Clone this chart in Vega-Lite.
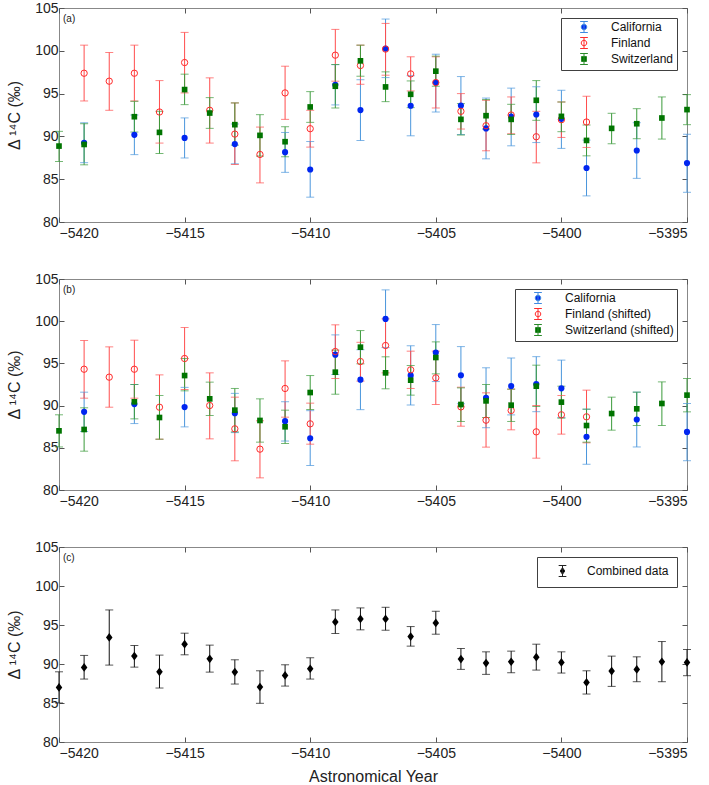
{
  "$schema": "https://vega.github.io/schema/vega-lite/v6.json",
  "background": "white",
  "padding": {"left": 5, "top": 0, "right": 5, "bottom": 0},
  "bounds": "flush",
  "spacing": 57,
  "resolve": {"scale": {"color": "independent", "fill": "independent", "stroke": "independent", "shape": "independent"}, "legend": {"stroke": "independent", "fill": "independent", "color": "independent", "shape": "independent"}},
  "config": {
    "font": "Liberation Sans",
    "view": {"stroke": "#888888", "strokeWidth": 1},
    "axis": {"grid": false, "domain": false, "tickColor": "#555555", "tickSize": -5, "labelFontSize": 14, "labelColor": "#222222", "labelPadding": 6, "titleFontSize": 16, "titleFontWeight": "normal", "titleColor": "#222222", "titlePadding": 12.5},
    "axisX": {"labelPadding": 9, "titlePadding": 8},
    "legend": {"labelFontSize": 12, "labelColor": "#111111", "labelFont": "Liberation Sans", "title": null, "orient": "top-right", "offset": 10, "strokeColor": "#404040", "fillColor": "white", "symbolSize": 121, "symbolStrokeWidth": 1, "symbolOpacity": 1}
  },
  "datasets": {
    "a": [
      {"year": -5419, "series": "California", "value": 89.26, "lo": 86.93, "hi": 91.59},
      {"year": -5417, "series": "California", "value": 90.18, "lo": 87.87, "hi": 92.5},
      {"year": -5415, "series": "California", "value": 89.82, "lo": 87.48, "hi": 92.16},
      {"year": -5413, "series": "California", "value": 89.1, "lo": 86.8, "hi": 91.45},
      {"year": -5411, "series": "California", "value": 88.16, "lo": 85.8, "hi": 90.46},
      {"year": -5410, "series": "California", "value": 86.13, "lo": 82.9, "hi": 89.4},
      {"year": -5409, "series": "California", "value": 96.03, "lo": 93.68, "hi": 98.38},
      {"year": -5408, "series": "California", "value": 93.07, "lo": 89.52, "hi": 96.62},
      {"year": -5407, "series": "California", "value": 100.27, "lo": 96.87, "hi": 103.71},
      {"year": -5406, "series": "California", "value": 93.58, "lo": 90.07, "hi": 97.09},
      {"year": -5405, "series": "California", "value": 96.29, "lo": 92.85, "hi": 99.6},
      {"year": -5404, "series": "California", "value": 93.6, "lo": 90.22, "hi": 96.99},
      {"year": -5403, "series": "California", "value": 90.93, "lo": 87.38, "hi": 94.48},
      {"year": -5402, "series": "California", "value": 92.32, "lo": 88.9, "hi": 95.64},
      {"year": -5401, "series": "California", "value": 92.56, "lo": 89.28, "hi": 95.8},
      {"year": -5400, "series": "California", "value": 92.05, "lo": 88.6, "hi": 95.39},
      {"year": -5399, "series": "California", "value": 86.31, "lo": 83.05, "hi": 89.57},
      {"year": -5397, "series": "California", "value": 88.35, "lo": 85.1, "hi": 91.6},
      {"year": -5395, "series": "California", "value": 86.88, "lo": 83.47, "hi": 90.25},
      {"year": -5419, "series": "Finland", "value": 97.38, "lo": 94.14, "hi": 100.66},
      {"year": -5418, "series": "Finland", "value": 96.45, "lo": 93.05, "hi": 99.8},
      {"year": -5417, "series": "Finland", "value": 97.38, "lo": 94.14, "hi": 100.66},
      {"year": -5416, "series": "Finland", "value": 92.85, "lo": 89.22, "hi": 96.52},
      {"year": -5415, "series": "Finland", "value": 98.63, "lo": 95.08, "hi": 102.15},
      {"year": -5414, "series": "Finland", "value": 93.05, "lo": 89.22, "hi": 96.84},
      {"year": -5413, "series": "Finland", "value": 90.27, "lo": 86.72, "hi": 93.91},
      {"year": -5412, "series": "Finland", "value": 87.89, "lo": 84.57, "hi": 91.09},
      {"year": -5411, "series": "Finland", "value": 95.08, "lo": 91.99, "hi": 98.2},
      {"year": -5410, "series": "Finland", "value": 90.9, "lo": 88.75, "hi": 93.05},
      {"year": -5409, "series": "Finland", "value": 99.49, "lo": 96.45, "hi": 102.5},
      {"year": -5408, "series": "Finland", "value": 98.28, "lo": 96.09, "hi": 100.66},
      {"year": -5407, "series": "Finland", "value": 100.2, "lo": 97.15, "hi": 103.2},
      {"year": -5406, "series": "Finland", "value": 97.3, "lo": 95.31, "hi": 99.3},
      {"year": -5405, "series": "Finland", "value": 96.29, "lo": 93.32, "hi": 99.3},
      {"year": -5404, "series": "Finland", "value": 92.93, "lo": 90.86, "hi": 95.0},
      {"year": -5403, "series": "Finland", "value": 91.25, "lo": 88.32, "hi": 94.22},
      {"year": -5402, "series": "Finland", "value": 92.5, "lo": 90.31, "hi": 94.61},
      {"year": -5401, "series": "Finland", "value": 89.96, "lo": 86.91, "hi": 92.93},
      {"year": -5400, "series": "Finland", "value": 91.95, "lo": 89.88, "hi": 94.02},
      {"year": -5399, "series": "Finland", "value": 91.68, "lo": 88.71, "hi": 94.69},
      {"year": -5420, "series": "Switzerland", "value": 88.87, "lo": 87.07, "hi": 90.59},
      {"year": -5419, "series": "Switzerland", "value": 89.06, "lo": 86.68, "hi": 91.48},
      {"year": -5417, "series": "Switzerland", "value": 92.3, "lo": 90.51, "hi": 94.1},
      {"year": -5416, "series": "Switzerland", "value": 90.47, "lo": 88.0, "hi": 92.93},
      {"year": -5415, "series": "Switzerland", "value": 95.47, "lo": 93.71, "hi": 97.27},
      {"year": -5414, "series": "Switzerland", "value": 92.73, "lo": 90.94, "hi": 94.53},
      {"year": -5413, "series": "Switzerland", "value": 91.37, "lo": 88.98, "hi": 93.91},
      {"year": -5412, "series": "Switzerland", "value": 90.12, "lo": 87.7, "hi": 92.54},
      {"year": -5411, "series": "Switzerland", "value": 89.38, "lo": 87.62, "hi": 91.13},
      {"year": -5410, "series": "Switzerland", "value": 93.44, "lo": 91.64, "hi": 95.23},
      {"year": -5409, "series": "Switzerland", "value": 95.86, "lo": 93.32, "hi": 98.4},
      {"year": -5408, "series": "Switzerland", "value": 98.83, "lo": 97.03, "hi": 100.66},
      {"year": -5407, "series": "Switzerland", "value": 95.78, "lo": 94.06, "hi": 97.54},
      {"year": -5406, "series": "Switzerland", "value": 94.92, "lo": 93.36, "hi": 96.48},
      {"year": -5405, "series": "Switzerland", "value": 97.62, "lo": 95.86, "hi": 99.38},
      {"year": -5404, "series": "Switzerland", "value": 91.99, "lo": 90.16, "hi": 93.83},
      {"year": -5403, "series": "Switzerland", "value": 92.42, "lo": 90.86, "hi": 94.3},
      {"year": -5402, "series": "Switzerland", "value": 91.99, "lo": 90.23, "hi": 93.75},
      {"year": -5401, "series": "Switzerland", "value": 94.22, "lo": 91.88, "hi": 96.52},
      {"year": -5400, "series": "Switzerland", "value": 92.34, "lo": 90.55, "hi": 94.02},
      {"year": -5399, "series": "Switzerland", "value": 89.53, "lo": 87.73, "hi": 91.33},
      {"year": -5398, "series": "Switzerland", "value": 90.94, "lo": 89.14, "hi": 92.7},
      {"year": -5397, "series": "Switzerland", "value": 91.48, "lo": 89.73, "hi": 93.24},
      {"year": -5396, "series": "Switzerland", "value": 92.15, "lo": 89.69, "hi": 94.61},
      {"year": -5395, "series": "Switzerland", "value": 93.13, "lo": 91.37, "hi": 94.88}
    ],
    "b": [
      {"year": -5419, "series": "California", "value": 89.26, "lo": 86.93, "hi": 91.59},
      {"year": -5417, "series": "California", "value": 90.18, "lo": 87.87, "hi": 92.5},
      {"year": -5415, "series": "California", "value": 89.82, "lo": 87.48, "hi": 92.16},
      {"year": -5413, "series": "California", "value": 89.1, "lo": 86.8, "hi": 91.45},
      {"year": -5411, "series": "California", "value": 88.16, "lo": 85.8, "hi": 90.46},
      {"year": -5410, "series": "California", "value": 86.13, "lo": 82.9, "hi": 89.4},
      {"year": -5409, "series": "California", "value": 96.03, "lo": 93.68, "hi": 98.38},
      {"year": -5408, "series": "California", "value": 93.07, "lo": 89.52, "hi": 96.62},
      {"year": -5407, "series": "California", "value": 100.27, "lo": 96.87, "hi": 103.71},
      {"year": -5406, "series": "California", "value": 93.58, "lo": 90.07, "hi": 97.09},
      {"year": -5405, "series": "California", "value": 96.29, "lo": 92.85, "hi": 99.6},
      {"year": -5404, "series": "California", "value": 93.6, "lo": 90.22, "hi": 96.99},
      {"year": -5403, "series": "California", "value": 90.93, "lo": 87.38, "hi": 94.48},
      {"year": -5402, "series": "California", "value": 92.32, "lo": 88.9, "hi": 95.64},
      {"year": -5401, "series": "California", "value": 92.56, "lo": 89.28, "hi": 95.8},
      {"year": -5400, "series": "California", "value": 92.05, "lo": 88.6, "hi": 95.39},
      {"year": -5399, "series": "California", "value": 86.31, "lo": 83.05, "hi": 89.57},
      {"year": -5397, "series": "California", "value": 88.35, "lo": 85.1, "hi": 91.6},
      {"year": -5395, "series": "California", "value": 86.88, "lo": 83.47, "hi": 90.25},
      {"year": -5419, "series": "Finland (shifted)", "value": 94.31, "lo": 90.88, "hi": 97.71},
      {"year": -5418, "series": "Finland (shifted)", "value": 93.37, "lo": 89.81, "hi": 96.96},
      {"year": -5417, "series": "Finland (shifted)", "value": 94.31, "lo": 90.88, "hi": 97.75},
      {"year": -5416, "series": "Finland (shifted)", "value": 89.81, "lo": 86.02, "hi": 93.64},
      {"year": -5415, "series": "Finland (shifted)", "value": 95.58, "lo": 91.91, "hi": 99.25},
      {"year": -5414, "series": "Finland (shifted)", "value": 90.01, "lo": 86.06, "hi": 93.88},
      {"year": -5413, "series": "Finland (shifted)", "value": 87.25, "lo": 83.46, "hi": 91.0},
      {"year": -5412, "series": "Finland (shifted)", "value": 84.84, "lo": 81.44, "hi": 88.2},
      {"year": -5411, "series": "Finland (shifted)", "value": 92.03, "lo": 88.63, "hi": 95.3},
      {"year": -5410, "series": "Finland (shifted)", "value": 87.84, "lo": 85.43, "hi": 90.29},
      {"year": -5409, "series": "Finland (shifted)", "value": 96.41, "lo": 93.21, "hi": 99.57},
      {"year": -5408, "series": "Finland (shifted)", "value": 95.22, "lo": 92.9, "hi": 97.5},
      {"year": -5407, "series": "Finland (shifted)", "value": 97.12, "lo": 93.88, "hi": 100.28},
      {"year": -5406, "series": "Finland (shifted)", "value": 94.24, "lo": 92.03, "hi": 96.45},
      {"year": -5405, "series": "Finland (shifted)", "value": 93.29, "lo": 90.13, "hi": 96.45},
      {"year": -5404, "series": "Finland (shifted)", "value": 89.85, "lo": 87.56, "hi": 92.18},
      {"year": -5403, "series": "Finland (shifted)", "value": 88.27, "lo": 85.08, "hi": 91.51},
      {"year": -5402, "series": "Finland (shifted)", "value": 89.42, "lo": 87.13, "hi": 91.95},
      {"year": -5401, "series": "Finland (shifted)", "value": 86.89, "lo": 83.77, "hi": 90.01},
      {"year": -5400, "series": "Finland (shifted)", "value": 88.91, "lo": 86.62, "hi": 91.2},
      {"year": -5399, "series": "Finland (shifted)", "value": 88.67, "lo": 85.59, "hi": 91.83},
      {"year": -5420, "series": "Switzerland (shifted)", "value": 87.01, "lo": 85.1, "hi": 88.91},
      {"year": -5419, "series": "Switzerland (shifted)", "value": 87.17, "lo": 84.6, "hi": 89.74},
      {"year": -5417, "series": "Switzerland (shifted)", "value": 90.45, "lo": 88.43, "hi": 92.5},
      {"year": -5416, "series": "Switzerland (shifted)", "value": 88.59, "lo": 86.02, "hi": 91.2},
      {"year": -5415, "series": "Switzerland (shifted)", "value": 93.56, "lo": 91.75, "hi": 95.58},
      {"year": -5414, "series": "Switzerland (shifted)", "value": 90.8, "lo": 88.83, "hi": 92.78},
      {"year": -5413, "series": "Switzerland (shifted)", "value": 89.46, "lo": 86.89, "hi": 92.03},
      {"year": -5412, "series": "Switzerland (shifted)", "value": 88.24, "lo": 85.67, "hi": 90.8},
      {"year": -5411, "series": "Switzerland (shifted)", "value": 87.49, "lo": 85.51, "hi": 89.46},
      {"year": -5410, "series": "Switzerland (shifted)", "value": 91.55, "lo": 89.54, "hi": 93.56},
      {"year": -5409, "series": "Switzerland (shifted)", "value": 93.96, "lo": 91.35, "hi": 96.57},
      {"year": -5408, "series": "Switzerland (shifted)", "value": 96.92, "lo": 94.95, "hi": 98.89},
      {"year": -5407, "series": "Switzerland (shifted)", "value": 93.88, "lo": 91.99, "hi": 95.78},
      {"year": -5406, "series": "Switzerland (shifted)", "value": 93.01, "lo": 91.24, "hi": 94.75},
      {"year": -5405, "series": "Switzerland (shifted)", "value": 95.7, "lo": 93.76, "hi": 97.55},
      {"year": -5404, "series": "Switzerland (shifted)", "value": 90.13, "lo": 88.12, "hi": 92.1},
      {"year": -5403, "series": "Switzerland (shifted)", "value": 90.56, "lo": 88.59, "hi": 92.5},
      {"year": -5402, "series": "Switzerland (shifted)", "value": 90.05, "lo": 88.12, "hi": 91.95},
      {"year": -5401, "series": "Switzerland (shifted)", "value": 92.3, "lo": 89.89, "hi": 94.79},
      {"year": -5400, "series": "Switzerland (shifted)", "value": 90.41, "lo": 88.51, "hi": 92.3},
      {"year": -5399, "series": "Switzerland (shifted)", "value": 87.64, "lo": 85.67, "hi": 89.58},
      {"year": -5398, "series": "Switzerland (shifted)", "value": 89.06, "lo": 87.09, "hi": 91.0},
      {"year": -5397, "series": "Switzerland (shifted)", "value": 89.62, "lo": 87.64, "hi": 91.59},
      {"year": -5396, "series": "Switzerland (shifted)", "value": 90.25, "lo": 87.64, "hi": 92.81},
      {"year": -5395, "series": "Switzerland (shifted)", "value": 91.24, "lo": 89.26, "hi": 93.21}
    ],
    "c": [
      {"year": -5420, "series": "Combined data", "value": 87.0, "lo": 85.0, "hi": 89.0},
      {"year": -5419, "series": "Combined data", "value": 89.56, "lo": 88.07, "hi": 91.1},
      {"year": -5418, "series": "Combined data", "value": 93.4, "lo": 89.86, "hi": 96.93},
      {"year": -5417, "series": "Combined data", "value": 91.01, "lo": 89.6, "hi": 92.37},
      {"year": -5416, "series": "Combined data", "value": 89.0, "lo": 86.92, "hi": 91.14},
      {"year": -5415, "series": "Combined data", "value": 92.54, "lo": 91.18, "hi": 93.95},
      {"year": -5414, "series": "Combined data", "value": 90.67, "lo": 88.96, "hi": 92.42},
      {"year": -5413, "series": "Combined data", "value": 88.96, "lo": 87.43, "hi": 90.54},
      {"year": -5412, "series": "Combined data", "value": 87.05, "lo": 84.96, "hi": 89.13},
      {"year": -5411, "series": "Combined data", "value": 88.54, "lo": 87.17, "hi": 89.9},
      {"year": -5410, "series": "Combined data", "value": 89.39, "lo": 88.07, "hi": 90.8},
      {"year": -5409, "series": "Combined data", "value": 95.4, "lo": 93.91, "hi": 96.93},
      {"year": -5408, "series": "Combined data", "value": 95.78, "lo": 94.38, "hi": 97.19},
      {"year": -5407, "series": "Combined data", "value": 95.78, "lo": 94.33, "hi": 97.27},
      {"year": -5406, "series": "Combined data", "value": 93.52, "lo": 92.29, "hi": 94.8},
      {"year": -5405, "series": "Combined data", "value": 95.27, "lo": 93.82, "hi": 96.76},
      {"year": -5404, "series": "Combined data", "value": 90.63, "lo": 89.31, "hi": 91.99},
      {"year": -5403, "series": "Combined data", "value": 90.12, "lo": 88.67, "hi": 91.56},
      {"year": -5402, "series": "Combined data", "value": 90.29, "lo": 88.88, "hi": 91.65},
      {"year": -5401, "series": "Combined data", "value": 90.88, "lo": 89.22, "hi": 92.54},
      {"year": -5400, "series": "Combined data", "value": 90.2, "lo": 88.84, "hi": 91.56},
      {"year": -5399, "series": "Combined data", "value": 87.64, "lo": 86.15, "hi": 89.13},
      {"year": -5398, "series": "Combined data", "value": 89.09, "lo": 87.13, "hi": 91.01},
      {"year": -5397, "series": "Combined data", "value": 89.31, "lo": 87.73, "hi": 90.92},
      {"year": -5396, "series": "Combined data", "value": 90.29, "lo": 87.73, "hi": 92.88},
      {"year": -5395, "series": "Combined data", "value": 90.2, "lo": 88.5, "hi": 91.86}
    ]
  },
  "vconcat": [
    {
      "width": 628, "height": 214,
      "data": {"name": "a"},
      "resolve": {"axis": {"x": "independent", "y": "independent"}},
      "layer": [
        {"mark": {"type": "rule", "strokeWidth": 1},
         "encoding": {
           "x": {"field": "year", "type": "quantitative", "scale": {"domain": [-5420, -5395], "nice": false, "zero": false}, "axis": {"values": [-5420, -5415, -5410, -5405, -5400, -5395], "format": "d", "title": null}},
           "y": {"field": "lo", "type": "quantitative", "scale": {"domain": [80, 105], "nice": false, "zero": false}, "axis": {"values": [80, 85, 90, 95, 100, 105], "title": "Δ ¹⁴C (‰)"}},
           "y2": {"field": "hi"},
           "color": {"field": "series", "type": "nominal", "scale": {"range": ["#4a96dc", "#ff4d4d", "#3a9a3a"]}, "legend": null}
         }},
        {"mark": {"type": "tick", "orient": "horizontal", "size": 8, "thickness": 1},
         "encoding": {
           "x": {"field": "year", "type": "quantitative", "axis": null},
           "y": {"field": "lo", "type": "quantitative", "axis": null},
           "color": {"field": "series", "type": "nominal", "legend": null}
         }},
        {"mark": {"type": "tick", "orient": "horizontal", "size": 8, "thickness": 1},
         "encoding": {
           "x": {"field": "year", "type": "quantitative", "axis": null},
           "y": {"field": "hi", "type": "quantitative", "axis": null},
           "color": {"field": "series", "type": "nominal", "legend": null}
         }},
        {"transform": [{"filter": "datum.series === 'California'"}],
         "mark": {"type": "point", "filled": true, "opacity": 1, "shape": "circle", "size": 38, "color": "#0026f0"},
         "encoding": {
           "x": {"field": "year", "type": "quantitative", "axis": {"orient": "top", "labels": false, "values": [-5420, -5415, -5410, -5405, -5400, -5395], "title": null}},
           "y": {"field": "value", "type": "quantitative", "axis": {"orient": "right", "labels": false, "values": [80, 85, 90, 95, 100, 105], "title": null}}
         }},
        {"transform": [{"filter": "datum.series === 'Finland'"}],
         "mark": {"type": "point", "filled": false, "opacity": 1, "shape": "circle", "size": 40, "strokeWidth": 1, "color": "#ff2a2a"},
         "encoding": {
           "x": {"field": "year", "type": "quantitative", "axis": null},
           "y": {"field": "value", "type": "quantitative", "axis": null}
         }},
        {"transform": [{"filter": "datum.series === 'Switzerland'"}],
         "mark": {"type": "point", "filled": true, "opacity": 1, "shape": "square", "size": 32, "color": "#007400"},
         "encoding": {
           "x": {"field": "year", "type": "quantitative", "axis": null},
           "y": {"field": "value", "type": "quantitative", "axis": null}
         }},
        {"mark": {"type": "point", "filled": true, "opacity": 0, "size": 1},
         "encoding": {
           "x": {"field": "year", "type": "quantitative", "axis": null},
           "y": {"field": "value", "type": "quantitative", "axis": null},
           "shape": {"field": "series", "type": "nominal", "scale": {"domain": ["California", "Finland", "Switzerland"], "range": ["M0,-1L0,1M-0.7,-1L0.7,-1M-0.7,1L0.7,1M0.5,0A0.5,0.5,0,1,1,-0.5,0A0.5,0.5,0,1,1,0.5,0Z", "M0,-1L0,1M-0.7,-1L0.7,-1M-0.7,1L0.7,1M0.5,0A0.5,0.5,0,1,1,-0.5,0A0.5,0.5,0,1,1,0.5,0Z", "M0,-1L0,1M-0.7,-1L0.7,-1M-0.7,1L0.7,1M-0.45,-0.45L0.45,-0.45L0.45,0.45L-0.45,0.45Z"]}, "legend": {"padding": 3, "symbolOffset": 14, "labelOffset": 21, "rowPadding": 0}},
           "fill": {"field": "series", "type": "nominal", "scale": {"domain": ["California", "Finland", "Switzerland"], "range": ["#0026f0", "transparent", "#007400"]}, "legend": {"padding": 3, "symbolOffset": 14, "labelOffset": 21, "rowPadding": 0}},
           "stroke": {"field": "series", "type": "nominal", "scale": {"domain": ["California", "Finland", "Switzerland"], "range": ["#3f8ae0", "#ff2a2a", "#2a8a2a"]}, "legend": {"padding": 3, "symbolOffset": 14, "labelOffset": 21, "rowPadding": 0}}
         }},
        {"data": {"values": [{}]},
         "mark": {"type": "text", "text": "(a)", "align": "left", "baseline": "middle", "dx": 4, "dy": 11, "fontSize": 10, "color": "#222222"},
         "encoding": {
           "x": {"datum": -5420, "type": "quantitative", "axis": null},
           "y": {"datum": 105, "type": "quantitative", "axis": null}
         }}
      ]
    },
    {
      "width": 628, "height": 211,
      "data": {"name": "b"},
      "resolve": {"axis": {"x": "independent", "y": "independent"}},
      "layer": [
        {"mark": {"type": "rule", "strokeWidth": 1},
         "encoding": {
           "x": {"field": "year", "type": "quantitative", "scale": {"domain": [-5420, -5395], "nice": false, "zero": false}, "axis": {"values": [-5420, -5415, -5410, -5405, -5400, -5395], "format": "d", "title": null}},
           "y": {"field": "lo", "type": "quantitative", "scale": {"domain": [80, 105], "nice": false, "zero": false}, "axis": {"values": [80, 85, 90, 95, 100, 105], "title": "Δ ¹⁴C (‰)"}},
           "y2": {"field": "hi"},
           "color": {"field": "series", "type": "nominal", "scale": {"range": ["#4a96dc", "#ff4d4d", "#3a9a3a"]}, "legend": null}
         }},
        {"mark": {"type": "tick", "orient": "horizontal", "size": 8, "thickness": 1},
         "encoding": {
           "x": {"field": "year", "type": "quantitative", "axis": null},
           "y": {"field": "lo", "type": "quantitative", "axis": null},
           "color": {"field": "series", "type": "nominal", "legend": null}
         }},
        {"mark": {"type": "tick", "orient": "horizontal", "size": 8, "thickness": 1},
         "encoding": {
           "x": {"field": "year", "type": "quantitative", "axis": null},
           "y": {"field": "hi", "type": "quantitative", "axis": null},
           "color": {"field": "series", "type": "nominal", "legend": null}
         }},
        {"transform": [{"filter": "datum.series === 'California'"}],
         "mark": {"type": "point", "filled": true, "opacity": 1, "shape": "circle", "size": 38, "color": "#0026f0"},
         "encoding": {
           "x": {"field": "year", "type": "quantitative", "axis": {"orient": "top", "labels": false, "values": [-5420, -5415, -5410, -5405, -5400, -5395], "title": null}},
           "y": {"field": "value", "type": "quantitative", "axis": {"orient": "right", "labels": false, "values": [80, 85, 90, 95, 100, 105], "title": null}}
         }},
        {"transform": [{"filter": "datum.series === 'Finland (shifted)'"}],
         "mark": {"type": "point", "filled": false, "opacity": 1, "shape": "circle", "size": 40, "strokeWidth": 1, "color": "#ff2a2a"},
         "encoding": {
           "x": {"field": "year", "type": "quantitative", "axis": null},
           "y": {"field": "value", "type": "quantitative", "axis": null}
         }},
        {"transform": [{"filter": "datum.series === 'Switzerland (shifted)'"}],
         "mark": {"type": "point", "filled": true, "opacity": 1, "shape": "square", "size": 32, "color": "#007400"},
         "encoding": {
           "x": {"field": "year", "type": "quantitative", "axis": null},
           "y": {"field": "value", "type": "quantitative", "axis": null}
         }},
        {"mark": {"type": "point", "filled": true, "opacity": 0, "size": 1},
         "encoding": {
           "x": {"field": "year", "type": "quantitative", "axis": null},
           "y": {"field": "value", "type": "quantitative", "axis": null},
           "shape": {"field": "series", "type": "nominal", "scale": {"domain": ["California", "Finland (shifted)", "Switzerland (shifted)"], "range": ["M0,-1L0,1M-0.7,-1L0.7,-1M-0.7,1L0.7,1M0.5,0A0.5,0.5,0,1,1,-0.5,0A0.5,0.5,0,1,1,0.5,0Z", "M0,-1L0,1M-0.7,-1L0.7,-1M-0.7,1L0.7,1M0.5,0A0.5,0.5,0,1,1,-0.5,0A0.5,0.5,0,1,1,0.5,0Z", "M0,-1L0,1M-0.7,-1L0.7,-1M-0.7,1L0.7,1M-0.45,-0.45L0.45,-0.45L0.45,0.45L-0.45,0.45Z"]}, "legend": {"padding": 3, "symbolOffset": 14, "labelOffset": 21, "rowPadding": 0}},
           "fill": {"field": "series", "type": "nominal", "scale": {"domain": ["California", "Finland (shifted)", "Switzerland (shifted)"], "range": ["#0026f0", "transparent", "#007400"]}, "legend": {"padding": 3, "symbolOffset": 14, "labelOffset": 21, "rowPadding": 0}},
           "stroke": {"field": "series", "type": "nominal", "scale": {"domain": ["California", "Finland (shifted)", "Switzerland (shifted)"], "range": ["#3f8ae0", "#ff2a2a", "#2a8a2a"]}, "legend": {"padding": 3, "symbolOffset": 14, "labelOffset": 21, "rowPadding": 0}}
         }},
        {"data": {"values": [{}]},
         "mark": {"type": "text", "text": "(b)", "align": "left", "baseline": "middle", "dx": 4, "dy": 11, "fontSize": 10, "color": "#222222"},
         "encoding": {
           "x": {"datum": -5420, "type": "quantitative", "axis": null},
           "y": {"datum": 105, "type": "quantitative", "axis": null}
         }}
      ]
    },
    {
      "width": 628, "height": 195,
      "data": {"name": "c"},
      "resolve": {"axis": {"x": "independent", "y": "independent"}},
      "layer": [
        {"mark": {"type": "rule", "strokeWidth": 1, "color": "#111111"},
         "encoding": {
           "x": {"field": "year", "type": "quantitative", "scale": {"domain": [-5420, -5395], "nice": false, "zero": false}, "axis": {"values": [-5420, -5415, -5410, -5405, -5400, -5395], "format": "d", "title": "Astronomical Year"}},
           "y": {"field": "lo", "type": "quantitative", "scale": {"domain": [80, 105], "nice": false, "zero": false}, "axis": {"values": [80, 85, 90, 95, 100, 105], "title": "Δ ¹⁴C (‰)"}},
           "y2": {"field": "hi"}
         }},
        {"mark": {"type": "tick", "orient": "horizontal", "size": 8, "thickness": 1, "color": "#111111"},
         "encoding": {
           "x": {"field": "year", "type": "quantitative", "axis": null},
           "y": {"field": "lo", "type": "quantitative", "axis": null}
         }},
        {"mark": {"type": "tick", "orient": "horizontal", "size": 8, "thickness": 1, "color": "#111111"},
         "encoding": {
           "x": {"field": "year", "type": "quantitative", "axis": null},
           "y": {"field": "hi", "type": "quantitative", "axis": null}
         }},
        {"mark": {"type": "point", "filled": true, "opacity": 1, "size": 76, "shape": "M0,-1L0.75,0L0,1L-0.75,0Z", "color": "#000000"},
         "encoding": {
           "x": {"field": "year", "type": "quantitative", "axis": {"orient": "top", "labels": false, "values": [-5420, -5415, -5410, -5405, -5400, -5395], "title": null}},
           "y": {"field": "value", "type": "quantitative", "axis": {"orient": "right", "labels": false, "values": [80, 85, 90, 95, 100, 105], "title": null}}
         }},
        {"mark": {"type": "point", "filled": true, "opacity": 0, "size": 1},
         "encoding": {
           "x": {"field": "year", "type": "quantitative", "axis": null},
           "y": {"field": "value", "type": "quantitative", "axis": null},
           "shape": {"field": "series", "type": "nominal", "scale": {"domain": ["Combined data"], "range": ["M0,-1L0,1M-0.7,-1L0.7,-1M-0.7,1L0.7,1M0,-0.6L0.42,0L0,0.6L-0.42,0Z"]}, "legend": {"padding": 8, "symbolOffset": 11.5, "labelOffset": 18.5}},
           "fill": {"field": "series", "type": "nominal", "scale": {"domain": ["Combined data"], "range": ["#000000"]}, "legend": {"padding": 8, "symbolOffset": 11.5, "labelOffset": 18.5}},
           "stroke": {"field": "series", "type": "nominal", "scale": {"domain": ["Combined data"], "range": ["#222222"]}, "legend": {"padding": 8, "symbolOffset": 11.5, "labelOffset": 18.5}}
         }},
        {"data": {"values": [{}]},
         "mark": {"type": "text", "text": "(c)", "align": "left", "baseline": "middle", "dx": 4, "dy": 11, "fontSize": 10, "color": "#222222"},
         "encoding": {
           "x": {"datum": -5420, "type": "quantitative", "axis": null},
           "y": {"datum": 105, "type": "quantitative", "axis": null}
         }}
      ]
    }
  ]
}
